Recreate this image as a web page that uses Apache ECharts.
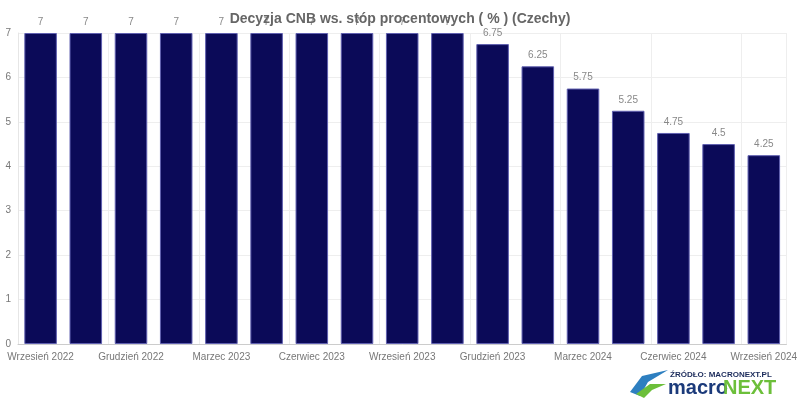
<!DOCTYPE html>
<html><head><meta charset="utf-8">
<script src="https://cdn.jsdelivr.net/npm/echarts@6/dist/echarts.min.js"></script>
<style>html,body{margin:0;padding:0;background:#fff}#c{width:800px;height:400px}</style>
</head><body><div id="c"></div>
<script>
const categories = ["Wrzesień 2022","Listopad 2022","Grudzień 2022","Luty 2023","Marzec 2023","Maj 2023","Czerwiec 2023","Sierpień 2023","Wrzesień 2023","Listopad 2023","Grudzień 2023","Luty 2024","Marzec 2024","Maj 2024","Czerwiec 2024","Sierpień 2024","Wrzesień 2024"];
const values = [7,7,7,7,7,7,7,7,7,7,6.75,6.25,5.75,5.25,4.75,4.5,4.25];
const yTicks = [0,1,2,3,4,5,6,7];
const titleText = "Decyzja CNB ws. stóp procentowych ( % ) (Czechy)";

const chart = echarts.init(document.getElementById('c'));
chart.setOption({
  animation: false,
  title: {text: titleText, left: 'center', top: 7, z: 20,
    textStyle: {fontFamily: 'Liberation Sans, Arial', fontSize: 14, fontWeight: 'bold', color: '#666'}},
  grid: {left: 18, right: 11, top: 33, bottom: 56, containLabel: false},
  xAxis: {type: 'category', data: categories,
    axisLine: {lineStyle: {color: '#ccc'}},
    axisTick: {show: false},
    axisLabel: {interval: 1, color: '#777', fontFamily: 'Liberation Sans, Arial', fontSize: 10, margin: 8},
    splitLine: {show: true, interval: 1, lineStyle: {color: '#eee'}}},
  yAxis: {type: 'value', min: yTicks[0], max: yTicks[yTicks.length-1], interval: 1,
    axisLine: {show: true, lineStyle: {color: '#e6e6e6'}},
    axisLabel: {color: '#777', fontFamily: 'Liberation Sans, Arial', fontSize: 10, margin: 7},
    splitLine: {lineStyle: {color: '#eee'}}},
  series: [{type: 'bar', data: values, barWidth: '72%',
    itemStyle: {color: '#0b0a58', borderColor: '#6060b0', borderWidth: 1},
    label: {show: true, position: 'top', color: '#888', fontFamily: 'Liberation Sans, Arial', fontSize: 10, distance: 6}}],
  graphic: [
    {type: 'text', x: 670, y: 371, style: {text: 'ŹRÓDŁO: MACRONEXT.PL', font: 'bold 8px "Liberation Sans", Arial', fill: '#1a2a5a'}},
    {type: 'text', x: 668, y: 378, style: {text: 'macro', font: 'bold 20px "Liberation Sans", Arial', fill: '#1b3a7a'}},
    {type: 'text', x: 723, y: 378, style: {text: 'NEXT', font: 'bold 20px "Liberation Sans", Arial', fill: '#6cbf3a'}},
    {type: 'polygon', shape: {points: [[630,392],[642,376],[668,370],[648,382],[640,396]]}, style: {fill: '#2d7fc0'}},
    {type: 'polygon', shape: {points: [[636,394],[650,384],[666,384],[652,390],[644,398]]}, style: {fill: '#6cbf3a'}}
  ]
});
</script></body></html>
